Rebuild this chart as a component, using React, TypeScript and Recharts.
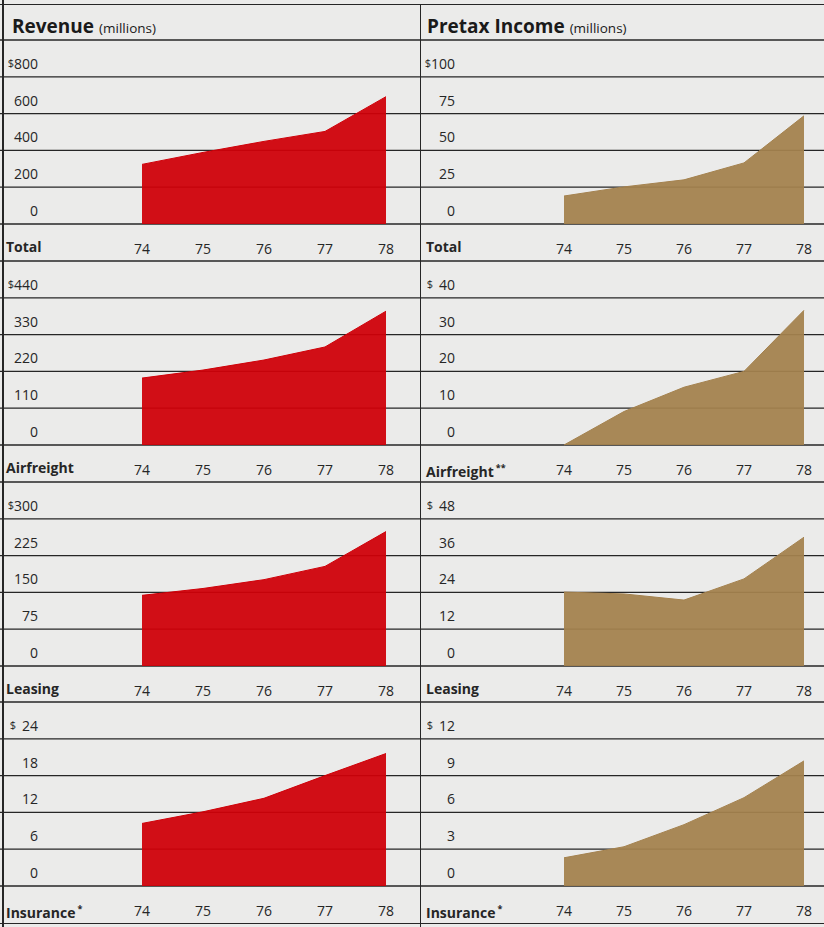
import React from "react";
import { AreaChart, Area, XAxis, YAxis, CartesianGrid } from "recharts";

// years on the x axis (19xx)
const years = [74, 75, 76, 77, 78];
const categories = ["Total", "Airfreight", "Leasing", "Insurance"];
const revenueMarks = ["", "", "", "*"];
const pretaxMarks = ["", "**", "", "*"];

// revenue, $ millions
const revenueTotal = [324, 389, 449, 503, 692];
const revenueAirfreight = [200, 224, 254, 293, 400];
const revenueLeasing = [144, 158, 176, 203, 274];
const revenueInsurance = [10.2, 12.1, 14.3, 18.0, 21.6];

// pretax income, $ millions
const pretaxTotal = [19, 25.2, 30, 41.5, 73.5];
const pretaxAirfreight = [0, 9.1, 15.7, 20, 36.6];
const pretaxLeasing = [24.1, 23.5, 21.5, 28.4, 42];
const pretaxInsurance = [2.3, 3.2, 5.0, 7.2, 10.2];

const revenueTicks = [
  [0, 200, 400, 600, 800],
  [0, 110, 220, 330, 440],
  [0, 75, 150, 225, 300],
  [0, 6, 12, 18, 24],
];
const pretaxTicks = [
  [0, 25, 50, 75, 100],
  [0, 10, 20, 30, 40],
  [0, 12, 24, 36, 48],
  [0, 3, 6, 9, 12],
];

const ROW = 36.8;
const TOP = 40;
const PAD = 2;
const FONT = '"Open Sans", sans-serif';
const INK = "#262626";
const RED = "#cf0008";
const TAN = "#a4824e";
const BG = "#ebebea";

const columns = {
  left: { x: 0, width: 420, x74: 142, pxPerYear: 61, labelRight: 38, textLeft: 6 },
  right: { x: 420, width: 404, x74: 144, pxPerYear: 60, labelRight: 35, textLeft: 6 },
};

type PanelProps = {
  values: number[];
  ticks: number[];
  color: string;
  col: "left" | "right";
  index: number;
  name: string;
  mark: string;
};

function Panel({ values, ticks, color, col, index, name, mark }: PanelProps) {
  const c = columns[col];
  const d0 = years[0] - c.x74 / c.pxPerYear;
  const d1 = d0 + c.width / c.pxPerYear;
  const step = ticks[1];
  const top = step * 5;
  const plotH = ROW * 5;
  const height = PAD + plotH + ROW;
  const panelTop = TOP + index * ROW * 6;
  const data = years.map((y, i) => ({ year: y, v: values[i] }));

  const renderY = (p: any) => {
    const v = p.payload.value;
    if (v >= top) return <g />;
    const isTop = v === ticks[4];
    const txt = String(v);
    return (
      <text
        x={c.labelRight}
        y={p.y - 8}
        textAnchor="end"
        fontSize={14}
        fill={INK}
        fontFamily={FONT}
      >
        {isTop && (
          <tspan fontSize={11} dy={-1.5}>
            $
          </tspan>
        )}
        <tspan dy={isTop ? 1.5 : 0} dx={isTop && txt.length < 3 ? 6 : 0}>
          {txt}
        </tspan>
      </text>
    );
  };

  const renderX = (p: any) => (
    <text
      x={p.x}
      y={PAD + plotH + 30}
      textAnchor="middle"
      fontSize={14}
      fill={INK}
      fontFamily={FONT}
    >
      {p.payload.value}
    </text>
  );

  return (
    <>
      <div style={{ position: "absolute", left: c.x, top: panelTop - PAD }}>
        <AreaChart
          width={c.width}
          height={height}
          data={data}
          margin={{ top: PAD, right: 0, bottom: 0, left: -1 }}
        >
          <CartesianGrid vertical={false} stroke={INK} strokeWidth={1.3} />
          <XAxis
            dataKey="year"
            type="number"
            domain={[d0, d1]}
            allowDataOverflow
            ticks={years}
            interval={0}
            height={ROW}
            axisLine={false}
            tickLine={false}
            tick={renderX}
          />
          <YAxis
            type="number"
            domain={[0, top]}
            ticks={[...ticks, top]}
            interval={0}
            width={1}
            axisLine={false}
            tickLine={false}
            tick={renderY}
          />
          <Area
            dataKey="v"
            type="linear"
            baseValue={0}
            fill={color}
            fillOpacity={0.94}
            stroke={color}
            strokeWidth={1}
            dot={false}
            activeDot={false}
            isAnimationActive={false}
          />
        </AreaChart>
      </div>
      <div
        style={{
          position: "absolute",
          left: c.x + c.textLeft,
          top: panelTop + plotH + 15,
          fontFamily: FONT,
          fontWeight: 700,
          fontSize: 14,
          lineHeight: "16px",
          color: INK,
          whiteSpace: "nowrap",
        }}
      >
        {name}
        {mark && (
          <sup style={{ fontSize: 9, marginLeft: 2, verticalAlign: "6px" }}>{mark}</sup>
        )}
      </div>
    </>
  );
}

const revenueSeries = [revenueTotal, revenueAirfreight, revenueLeasing, revenueInsurance];
const pretaxSeries = [pretaxTotal, pretaxAirfreight, pretaxLeasing, pretaxInsurance];

export default function App() {
  const bottom = TOP + 4 * ROW * 6;
  return (
    <div
      style={{
        position: "absolute",
        left: 0,
        top: 0,
        width: 824,
        height: 927,
        background: BG,
        overflow: "hidden",
        fontFamily: FONT,
      }}
    >
      <div style={{ position: "absolute", left: 0, top: 4, width: 824, height: 1.3, background: INK }} />
      <div style={{ position: "absolute", left: 0, top: bottom, width: 824, height: 1.3, background: INK }} />
      <div style={{ position: "absolute", left: 2, top: 0, width: 1.5, height: 927, background: INK }} />
      <div style={{ position: "absolute", left: 419.5, top: 4, width: 1.5, height: 923, background: INK }} />

      <div
        style={{
          position: "absolute",
          left: 12,
          top: 15,
          whiteSpace: "nowrap",
          color: "#1a1a1a",
          lineHeight: "22px",
        }}
      >
        <span style={{ fontSize: 19, fontWeight: 700 }}>Revenue</span>
        <span style={{ fontSize: 13.5, marginLeft: 5 }}>(millions)</span>
      </div>
      <div
        style={{
          position: "absolute",
          left: 427,
          top: 15,
          whiteSpace: "nowrap",
          color: "#1a1a1a",
          lineHeight: "22px",
        }}
      >
        <span style={{ fontSize: 19, fontWeight: 700 }}>Pretax Income</span>
        <span style={{ fontSize: 13.5, marginLeft: 5 }}>(millions)</span>
      </div>

      {categories.map((name, i) => (
        <Panel
          key={"r" + i}
          values={revenueSeries[i]}
          ticks={revenueTicks[i]}
          color={RED}
          col="left"
          index={i}
          name={name}
          mark={revenueMarks[i]}
        />
      ))}
      {categories.map((name, i) => (
        <Panel
          key={"p" + i}
          values={pretaxSeries[i]}
          ticks={pretaxTicks[i]}
          color={TAN}
          col="right"
          index={i}
          name={name}
          mark={pretaxMarks[i]}
        />
      ))}
    </div>
  );
}
